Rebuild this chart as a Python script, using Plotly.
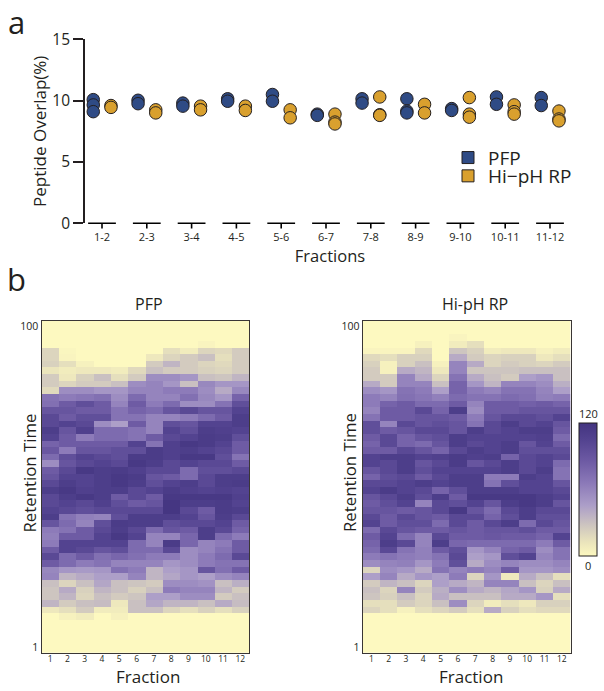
import plotly.graph_objects as go

# Panel a: peptide overlap
pairs = ["1-2","2-3","3-4","4-5","5-6","6-7","7-8","8-9","9-10","10-11","11-12"]
pfp_overlap = [[10.08,9.65,9.1],[10.03,9.75],[9.8,9.55],[10.15,9.95],[10.5,9.95],[8.9,8.8],
               [10.15,9.8],[10.15,9.15,9.0],[9.35,9.2],[10.3,9.7],[10.25,9.6]]
hiph_overlap = [[9.6,9.45],[9.25,9.0],[9.55,9.25],[9.55,9.2],[9.25,8.6],[8.9,8.25,8.1],
                [10.3,8.85,8.8],[9.7,9.0],[10.25,8.9,8.65],[9.65,9.1,8.9],[9.15,8.5,8.35]]

# Panel b: heatmaps, rows run from the top (late retention) to the bottom (early)
fractions = list(range(1, 13))
pfp_rows = [
 [0,0,0,0,0,0,0,0,0,0,0,0],
 [0,0,0,0,0,0,0,0,0,0,0,0],
 [0,0,0,0,0,0,0,0,0,0,0,0],
 [0,0,0,0,0,0,0,0,0,3,0,0],
 [20,2,0,0,0,0,0,15,8,20,18,25],
 [20,3,0,0,0,0,10,20,25,30,15,25],
 [22,15,5,0,0,0,25,35,25,20,18,25],
 [12,8,10,10,8,18,30,25,25,22,20,25],
 [25,10,22,30,15,25,55,55,50,30,28,35],
 [25,20,25,25,30,55,60,50,30,58,50,50],
 [18,55,55,50,50,60,60,65,65,55,40,58],
 [70,65,68,72,55,75,60,60,72,58,50,80],
 [72,85,95,85,60,85,65,75,55,55,70,95],
 [90,90,85,85,70,80,75,90,100,90,90,105],
 [100,85,95,95,70,70,60,60,65,75,85,110],
 [100,105,100,55,45,85,60,95,90,105,105,110],
 [110,90,108,75,75,70,60,105,95,110,108,105],
 [105,85,65,75,75,70,85,100,105,112,110,95],
 [80,85,85,85,85,105,70,108,115,112,105,85],
 [88,65,90,90,95,95,112,108,110,105,100,85],
 [75,95,105,100,95,112,112,108,115,115,95,70],
 [55,90,100,105,100,115,110,100,105,100,100,85],
 [85,100,115,110,112,108,100,100,75,95,95,100],
 [90,105,105,110,115,112,90,85,75,100,110,110],
 [100,110,105,110,115,110,95,105,110,100,110,112],
 [110,115,108,110,110,100,105,112,108,105,108,105],
 [100,110,115,110,85,100,85,115,115,115,115,108],
 [100,105,100,108,95,85,90,118,110,110,112,105],
 [105,100,95,100,100,100,100,118,100,85,112,110],
 [110,70,62,60,95,110,110,110,105,90,110,100],
 [90,75,60,95,112,110,110,95,100,100,105,85],
 [65,70,85,100,110,100,75,90,85,110,100,80],
 [62,85,85,105,115,105,60,60,78,110,75,65],
 [65,105,105,105,105,75,60,112,78,60,65,85],
 [85,105,100,90,95,75,75,100,55,60,70,85],
 [100,75,85,72,78,72,65,65,55,65,75,100],
 [85,75,65,70,60,60,60,50,55,65,70,70],
 [58,50,48,50,72,65,35,45,50,90,72,85],
 [60,35,40,45,45,60,35,42,50,45,55,60],
 [30,20,30,42,30,28,25,55,55,52,30,38],
 [28,40,22,35,30,22,30,65,60,60,35,25],
 [28,35,20,30,25,28,45,45,55,55,25,30],
 [35,25,30,32,10,30,42,35,35,30,40,32],
 [10,15,25,8,8,30,30,20,15,22,15,22],
 [0,5,8,0,5,0,0,0,0,0,0,0],
 [0,0,0,0,0,0,0,0,0,0,0,0],
 [0,0,0,0,0,0,0,0,0,0,0,0],
 [0,0,0,0,0,0,0,0,0,0,0,0],
 [0,0,0,0,0,0,0,0,0,0,0,0],
 [0,0,0,0,0,0,0,0,0,0,0,0],
]
hiph_rows = [
 [0,0,0,0,0,0,0,0,0,0,0,0],
 [0,0,0,0,0,0,0,0,0,0,0,0],
 [0,0,0,0,0,3,0,0,0,0,0,0],
 [0,0,0,5,0,8,15,0,0,0,0,0],
 [3,3,3,18,0,28,22,8,10,10,5,8],
 [18,15,22,22,0,40,25,20,22,22,10,15],
 [22,5,22,30,5,60,40,20,25,22,20,25],
 [25,5,40,35,10,60,28,28,28,30,30,30],
 [25,25,60,40,20,70,40,30,25,45,50,30],
 [40,25,60,60,30,80,50,35,60,60,55,38],
 [55,50,70,65,45,80,65,60,70,70,60,45],
 [65,60,72,68,62,75,70,70,75,72,62,65],
 [65,80,85,75,75,85,60,85,85,82,85,80],
 [60,85,85,100,80,110,55,85,85,90,90,90],
 [70,85,85,90,90,85,65,90,100,100,95,105],
 [95,60,100,90,95,90,70,100,110,100,105,90],
 [95,85,90,100,100,90,110,100,105,110,110,85],
 [85,100,80,90,95,110,105,105,105,105,108,75],
 [80,100,80,75,90,110,100,105,110,90,105,85],
 [85,85,100,90,80,100,110,105,110,95,95,95],
 [105,110,110,105,108,112,108,110,80,100,105,100],
 [105,100,110,90,100,112,90,100,110,100,105,75],
 [90,100,110,95,105,105,105,105,110,100,110,70],
 [80,95,100,85,100,110,110,65,65,110,105,70],
 [100,100,105,110,105,110,110,70,95,105,105,90],
 [105,112,105,100,80,95,110,110,110,105,105,100],
 [90,100,110,95,110,85,115,115,115,115,110,105],
 [85,95,105,60,100,95,105,90,110,115,110,90],
 [90,90,85,90,100,115,90,75,100,110,100,100],
 [100,85,100,90,85,100,100,80,95,110,95,95],
 [105,85,95,95,75,100,85,100,110,75,100,90],
 [75,100,90,85,85,90,85,90,90,95,85,85],
 [85,105,75,60,100,85,85,88,85,85,80,105],
 [80,110,100,60,110,78,75,75,75,75,65,85],
 [75,100,70,62,85,95,50,60,80,85,55,70],
 [65,70,65,62,70,100,45,50,95,105,60,70],
 [55,60,62,50,65,95,40,55,60,55,55,60],
 [20,55,50,40,70,60,65,60,85,50,50,55],
 [45,60,40,50,45,65,20,50,10,40,30,15],
 [25,35,30,20,45,40,35,60,60,30,20,30],
 [30,20,60,25,38,55,40,35,42,50,22,40],
 [28,22,30,20,40,30,30,30,40,40,50,15],
 [15,15,25,20,30,55,20,8,15,10,22,22],
 [20,15,5,15,20,25,15,40,22,15,18,18],
 [0,0,0,0,0,0,0,0,0,0,0,0],
 [0,0,0,0,0,0,0,0,0,0,0,0],
 [0,0,0,0,0,0,0,0,0,0,0,0],
 [0,0,0,0,0,0,0,0,0,0,0,0],
 [0,0,0,0,0,0,0,0,0,0,0,0],
 [0,0,0,0,0,0,0,0,0,0,0,0],
]

W, H = 604, 691
FONT = "Open Sans"
INK = "#231f20"
BLUE, GOLD = "#2f4b85", "#d9a02e"
SCALE = [[0, "#fdf9c0"], [0.1, "#ebe5bc"], [0.22, "#d0c8bf"], [0.38, "#ac9ec8"],
         [0.55, "#8b79b8"], [0.72, "#6c59a3"], [0.88, "#52428f"], [1, "#433480"]]

def px(x0, x1):
    return [x0 / W, x1 / W]

def py(top, bottom):
    return [1 - bottom / H, 1 - top / H]

def flat(groups, offset):
    xs, ys = [], []
    for i, g in enumerate(groups):
        for v in g:
            xs.append(i + offset)
            ys.append(v)
    return xs, ys

fig = go.Figure()

# group baselines and ticks of the x axis, on a helper axis pair that reaches below zero
bx, by = [], []
for i in range(len(pairs)):
    bx += [i - 0.31, i + 0.31, None, i, i, None]
    by += [0, 0, None, 0, -0.42, None]
fig.add_trace(go.Scatter(x=bx, y=by, mode="lines", line=dict(color="#000000", width=1.6),
                         xaxis="x4", yaxis="y4", showlegend=False, hoverinfo="skip"))

for name, groups, offset, col, leg in [("PFP", pfp_overlap, -0.195, BLUE, "legend"),
                                       ("Hi\u2212pH RP", hiph_overlap, 0.2, GOLD, "legend2")]:
    xs, ys = flat(groups, offset)
    fig.add_trace(go.Scatter(x=xs, y=ys, mode="markers", name=name, showlegend=False,
                             marker=dict(size=12.5, color=col, line=dict(color=INK, width=1)),
                             cliponaxis=False))
    fig.add_trace(go.Scatter(x=[None], y=[None], mode="markers", name=name, legend=leg, cliponaxis=False,
                             marker=dict(symbol="square", size=12, color=col, line=dict(color=INK, width=1))))

DY = -2.045
Y0 = 100.48
fig.add_trace(go.Heatmap(z=pfp_rows, x=fractions, y0=Y0, dy=DY, xaxis="x2", yaxis="y2", zmin=0, zmax=120,
                         colorscale=SCALE, showscale=False))
fig.add_trace(go.Heatmap(z=hiph_rows, x=fractions, y0=Y0, dy=DY, xaxis="x3", yaxis="y3", zmin=0, zmax=120,
                         colorscale=SCALE, showscale=True,
                         colorbar=dict(x=579 / W, xanchor="left", y=1 - 556 / H, yanchor="bottom",
                                       thickness=18, thicknessmode="pixels", len=133, lenmode="pixels",
                                       xpad=0, ypad=0, outlinecolor=INK, outlinewidth=1,
                                       tickvals=[0, 120], showticklabels=False, ticks="")))

hm_axis_x = dict(range=[0.5, 12.5], tickvals=fractions, ticks="", showgrid=False, zeroline=False,
                 showline=True, mirror=True, linecolor="#3a3635", linewidth=1.2, ticklabelstandoff=-2,
                 tickfont=dict(size=8.5, color=INK))
hm_axis_y = dict(range=[-0.75, 101.5], tickvals=[1, 100], ticks="", showgrid=False, zeroline=False,
                 showline=True, mirror=True, linecolor="#3a3635", linewidth=1.2,
                 tickfont=dict(size=10.5, color=INK))

CAT = 44.8
CX0 = 102.0
X_RANGE = [(85 - CX0) / CAT, (575 - CX0) / CAT]
PX_PER_UNIT = (223.3 - 39.3) / 15

def leg_at(y):
    return dict(x=448 / W, y=1 - y / H, xanchor="left", yanchor="middle", bgcolor="rgba(0,0,0,0)",
                font=dict(size=19, color=INK, family=FONT))

fig.update_layout(
    width=W, height=H, autosize=False, paper_bgcolor="white", plot_bgcolor="rgba(0,0,0,0)",
    margin=dict(l=0, r=0, t=0, b=0, autoexpand=False),
    font=dict(family=FONT, color=INK),
    showlegend=True,
    legend=leg_at(157.7),
    legend2=leg_at(176),
    xaxis=dict(domain=px(85, 575), range=X_RANGE,
               tickmode="array", tickvals=list(range(len(pairs))), ticktext=pairs, ticks="",
               showgrid=False, zeroline=False, showline=False, ticklabelstandoff=6,
               tickfont=dict(size=11, color=INK),
               title=dict(text="Fractions", font=dict(size=16.5, color=INK), standoff=5)),
    yaxis=dict(domain=py(39.3, 223.3), range=[0, 15], tickvals=[0, 5, 10, 15], ticks="outside",
               ticklen=10, tickwidth=1.5, tickcolor=INK, showline=True, linecolor=INK, linewidth=1.6,
               showgrid=False, zeroline=False, tickfont=dict(size=15.5, color=INK),
               title=dict(text="Peptide Overlap(%)", font=dict(size=17, color=INK), standoff=1)),
    xaxis2=dict(hm_axis_x, domain=px(41.5, 249), anchor="y2"),
    yaxis2=dict(hm_axis_y, domain=py(321, 652.7), anchor="x2"),
    xaxis3=dict(hm_axis_x, domain=px(362.7, 570.5), anchor="y3"),
    yaxis3=dict(hm_axis_y, domain=py(321, 652.7), anchor="x3"),
    xaxis4=dict(domain=px(85, 575), range=X_RANGE, visible=False, anchor="y4"),
    yaxis4=dict(domain=py(39.3, 233.3), range=[-10 / PX_PER_UNIT, 15], visible=False, anchor="x4"),
)

def note(text, x, y, size, angle=0):
    fig.add_annotation(text=text, x=x / W, y=1 - y / H, xref="paper", yref="paper", showarrow=False,
                       xanchor="center", yanchor="middle", textangle=angle, borderpad=0,
                       font=dict(size=size, color=INK, family=FONT))

note("a", 16, 22, 31)
note("b", 16, 279, 31)
note("PFP", 149, 304, 16)
note("Hi-pH RP", 475, 304, 16)
note("120", 588, 413, 11)
note("0", 588, 565, 11)
note("Fraction", 148, 676, 17)
note("Fraction", 470.5, 676, 17)
note("Retention Time", 28.5, 473, 16.8, -90)
note("Retention Time", 349, 473, 16.8, -90)

fig.write_html("out.html", config={"displayModeBar": False},
               post_script="document.body.style.margin='0';")
